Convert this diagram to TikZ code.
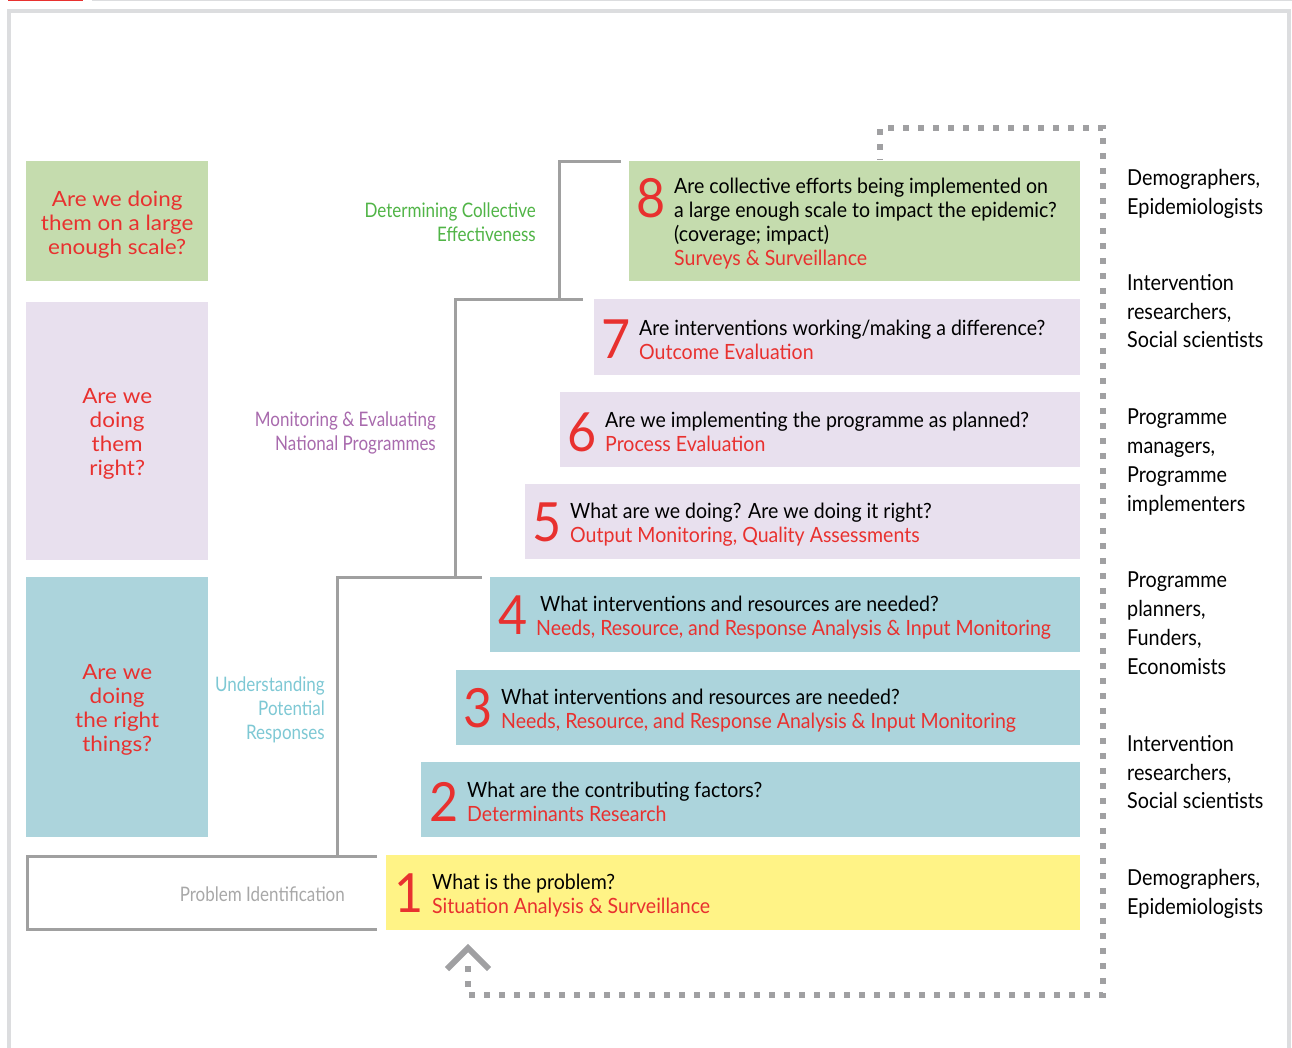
\documentclass[tikz,border=0pt]{standalone}
\usepackage{fontspec}
\setmainfont{Lato}
\newfontfamily\condfont[FakeStretch=0.93]{Lato}
\newfontfamily\labfont[FakeStretch=0.85]{Lato}
\newfontfamily\whofont[FakeStretch=0.90]{Lato}
\newfontfamily\askfont[FakeStretch=1.07]{Lato}
\usepackage{tikz}
\usepackage{xcolor}
\definecolor{boxgreen}{RGB}{197,220,174}
\definecolor{boxlav}{RGB}{232,224,238}
\definecolor{boxblue}{RGB}{172,212,220}
\definecolor{boxyellow}{RGB}{255,243,134}
\definecolor{txtred}{RGB}{232,49,47}
\definecolor{labgreen}{RGB}{80,180,70}
\definecolor{labpurple}{RGB}{168,106,173}
\definecolor{labblue}{RGB}{126,200,212}
\definecolor{labgray}{RGB}{168,168,168}
\definecolor{linegray}{RGB}{160,160,160}
\definecolor{framegray}{RGB}{220,221,223}
\definecolor{dotgray}{RGB}{160,160,162}
\newcommand{\method}[1]{\textcolor{txtred}{#1}}

\begin{document}
\begin{tikzpicture}[x=1pt, y=-1pt,
  box/.style={rectangle, anchor=north west, inner sep=0pt},
  qtext/.style={anchor=west, align=left, inner sep=0pt, yshift=-2.5pt, font=\condfont\fontsize{21}{24}\selectfont},
  num/.style={anchor=north west, inner sep=0pt, text=txtred, font=\condfont\fontsize{54}{54}\selectfont},
  ask/.style={align=center, inner sep=0pt, yshift=-3pt, text=txtred, font=\askfont\fontsize{21}{24}\selectfont},
  stage/.style={anchor=north east, align=right, inner sep=0pt, font=\labfont\fontsize{20}{24}\selectfont},
  who/.style={anchor=north west, align=left, inner sep=0pt, font=\whofont\fontsize{22}{28.7}\selectfont},
  bracket/.style={draw=linegray, line width=3pt},
  loop/.style={draw=dotgray, line width=6pt, dash pattern=on 6pt off 9pt}
]
\useasboundingbox (0,0) rectangle (1292,1048);

% frame
\fill[txtred] (8,0) rectangle (83,1.5);
\fill[framegray] (92,0) rectangle (1292,1.5);
\draw[framegray, line width=4pt] (9,1052) -- (9,11) -- (1289,11) -- (1289,1052);

% left questions
\node[box, fill=boxgreen, minimum width=182pt, minimum height=120pt] (lscale) at (26,161) {};
\node[ask] at (lscale.center) {Are we doing\\them on a large\\enough scale?};
\node[box, fill=boxlav, minimum width=182pt, minimum height=258pt] (lright) at (26,302) {};
\node[ask] at (lright.center) {Are we\\doing\\them\\right?};
\node[box, fill=boxblue, minimum width=182pt, minimum height=260pt] (lthings) at (26,577) {};
\node[ask] at (lthings.center) {Are we\\doing\\the right\\things?};

% steps
\node[box, fill=boxgreen, minimum width=451pt, minimum height=120pt] (s8) at (629,161) {};
\node[qtext] (q8) at ([xshift=45pt]s8.west) {Are collective efforts being implemented on\\a large enough scale to impact the epidemic?\\(coverage; impact)\\\method{Surveys \& Surveillance}};
\node[num] (n8) at ([xshift=-38pt]q8.north west) {8};

\node[box, fill=boxlav, minimum width=486pt, minimum height=76pt] (s7) at (594,299) {};
\node[qtext] (q7) at ([xshift=45pt]s7.west) {Are interventions working/making a difference?\\\method{Outcome Evaluation}};
\node[num] (n7) at ([xshift=-38pt]q7.north west) {7};

\node[box, fill=boxlav, minimum width=520pt, minimum height=75pt] (s6) at (560,392) {};
\node[qtext] (q6) at ([xshift=45pt]s6.west) {Are we implementing the programme as planned?\\\method{Process Evaluation}};
\node[num] (n6) at ([xshift=-38pt]q6.north west) {6};

\node[box, fill=boxlav, minimum width=555pt, minimum height=75pt] (s5) at (525,484) {};
\node[qtext] (q5) at ([xshift=45pt]s5.west) {What are we doing? Are we doing it right?\\\method{Output Monitoring, Quality Assessments}};
\node[num] (n5) at ([xshift=-38pt]q5.north west) {5};

\node[box, fill=boxblue, minimum width=590pt, minimum height=75pt] (s4) at (490,577) {};
\node[qtext] (q4) at ([xshift=46pt]s4.west) {\hspace{4pt}What interventions and resources are needed?\\\method{Needs, Resource, and Response Analysis \& Input Monitoring}};
\node[num] (n4) at ([xshift=-38pt]q4.north west) {4};

\node[box, fill=boxblue, minimum width=624pt, minimum height=75pt] (s3) at (456,670) {};
\node[qtext] (q3) at ([xshift=45pt]s3.west) {What interventions and resources are needed?\\\method{Needs, Resource, and Response Analysis \& Input Monitoring}};
\node[num] (n3) at ([xshift=-38pt]q3.north west) {3};

\node[box, fill=boxblue, minimum width=659pt, minimum height=75pt] (s2) at (421,762) {};
\node[qtext] (q2) at ([xshift=46pt]s2.west) {What are the contributing factors?\\\method{Determinants Research}};
\node[num] (n2) at ([xshift=-38pt]q2.north west) {2};

\node[box, fill=boxyellow, minimum width=694pt, minimum height=75pt] (s1) at (386,855) {};
\node[qtext] (q1) at ([xshift=46pt]s1.west) {What is the problem?\\\method{Situation Analysis \& Surveillance}};
\node[num] (n1) at ([xshift=-38pt]q1.north west) {1};

% stages
\node[stage, text=labgreen] (g8) at (536,203) {Determining Collective\\Effectiveness};
\node[stage, text=labpurple] (g5) at (436,412) {Monitoring \& Evaluating\\National Programmes};
\node[stage, text=labblue] (g2) at (325,677) {Understanding\\Potential\\Responses};
\node[stage, anchor=east, text=labgray] (g1) at (345,894) {Problem Identification};

% brackets
\coordinate (t8) at (621,162);
\coordinate (t7) at (583,300);
\coordinate (t4) at (482,577);
\coordinate (t1) at (377,856);
\coordinate (b1) at (377,929);
\draw[bracket] (t8) -- (559,162) -- (559,300);
\draw[bracket] (t7) -- (455,300) -- (455,577);
\draw[bracket] (t4) -- (337,577) -- (337,856);
\draw[bracket] (t1) -- (27,856) -- (27,929) -- (b1);

% feedback loop
\coordinate (tip) at (468,948);
\draw[loop] (468,966) -- (468,995) -- (1103,995) -- (1103,128) -- (880,128) -- (880,160);
\draw[dotgray, line width=6pt, miter limit=10] (447,969) -- (tip) -- (489,969);

% who
\node[who] (w8) at (1127,169) {Demographers,\\Epidemiologists};
\node[who] (w7) at (1127,274) {Intervention\\researchers,\\Social scientists};
\node[who] (w5) at (1127,409) {Programme\\managers,\\Programme\\implementers};
\node[who] (w4) at (1127,572) {Programme\\planners,\\Funders,\\Economists};
\node[who] (w2) at (1127,735) {Intervention\\researchers,\\Social scientists};
\node[who] (w1) at (1127,869) {Demographers,\\Epidemiologists};

\end{tikzpicture}
\end{document}
